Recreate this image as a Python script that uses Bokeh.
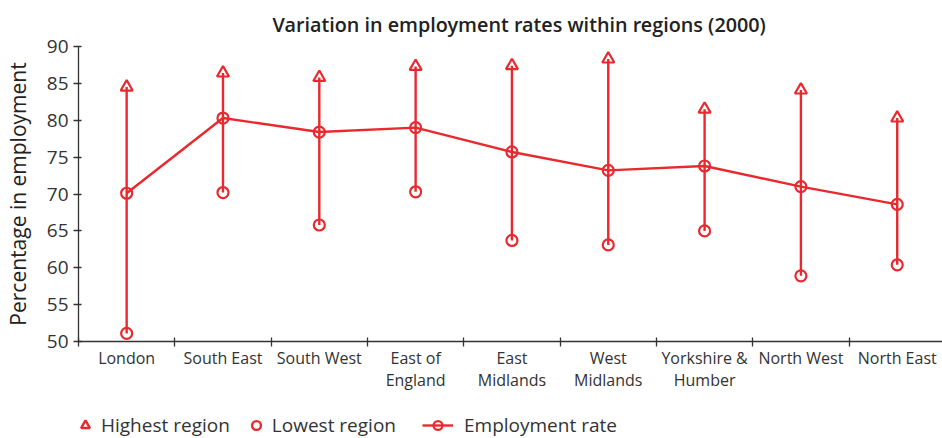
from bokeh.plotting import figure
from bokeh.layouts import column
from bokeh.models import Range1d, FixedTicker, Legend, LegendItem
from bokeh.embed import file_html
from bokeh.resources import INLINE

# Employment rates by region, 2000: regional average plus the highest and
# lowest local figures within each region.
regions = ["London", "South East", "South West", "East of\nEngland",
           "East\nMidlands", "West\nMidlands", "Yorkshire &\nHumber",
           "North West", "North East"]
highest = [84.5, 86.4, 85.8, 87.3, 87.4, 88.3, 81.5, 84.1, 80.3]
lowest = [51.1, 70.2, 65.8, 70.3, 63.7, 63.1, 65.0, 58.9, 60.4]
employment = [70.1, 80.3, 78.4, 79.0, 75.7, 73.2, 73.8, 71.0, 68.6]
y_ticks = [50, 55, 60, 65, 70, 75, 80, 85, 90]

RED = "#e9292e"
INK = "#333333"
FONT = "Open Sans"
NAN = float("nan")

# one slot per region; labels sit in the middle, tick marks on the borders
centers = [i + 0.5 for i in range(len(regions))]
borders = list(range(len(regions) + 1))

p = figure(frame_width=864, frame_height=295, output_backend="svg",
           toolbar_location=None,
           x_range=Range1d(0, 8.97), y_range=Range1d(50, 90),
           min_border_left=78, min_border_right=0, min_border_top=46,
           min_border_bottom=60)
p.outline_line_color = None
p.grid.visible = False
p.background_fill_color = "white"

p.title.text = "Variation in employment rates within regions (2000)"
p.title.align = "left"
p.title.offset = 194
p.title.text_font = "'Open Sans SemiBold', 'Open Sans'"
p.title.text_font_size = "19.8px"
p.title.text_font_style = "normal"
p.title.text_color = "#222222"
p.title.standoff = 17

# x axis
xa = p.xaxis[0]
xa.ticker = FixedTicker(ticks=centers, minor_ticks=borders)
xa.major_label_overrides = {c: r for c, r in zip(centers, regions)}
xa.major_tick_line_color = None
xa.major_tick_out = 5
xa.minor_tick_out = 5
xa.minor_tick_in = 4
xa.minor_tick_line_color = INK
xa.minor_tick_line_width = 1.3
xa.axis_line_color = INK
xa.axis_line_width = 1.3
xa.major_label_text_font = FONT
xa.major_label_text_font_size = "16px"
xa.major_label_text_color = INK
xa.major_label_text_line_height = 1.0
xa.major_label_standoff = 0

# y axis
ya = p.yaxis[0]
ya.ticker = FixedTicker(ticks=y_ticks, minor_ticks=[])
ya.major_tick_out = 5
ya.major_tick_in = 3
ya.major_tick_line_color = INK
ya.major_tick_line_width = 1.3
ya.axis_line_color = INK
ya.axis_line_width = 1.3
ya.major_label_text_font = FONT
ya.major_label_text_font_size = "19px"
ya.major_label_text_color = INK
ya.major_label_standoff = 5
ya.axis_label = "Percentage in employment"
ya.axis_label_text_font = FONT
ya.axis_label_text_font_size = "21px"
ya.axis_label_text_font_style = "normal"
ya.axis_label_text_color = "#222222"
ya.axis_label_standoff = 12

# range bars from lowest to highest
p.segment(x0=centers, y0=lowest, x1=centers, y1=highest,
          line_color=RED, line_width=2.4)

p.line(centers, employment, line_color=RED, line_width=2.4)
p.scatter(centers, employment, marker="circle", size=11,
          line_color=RED, line_width=2.2, fill_color=None)
p.scatter(centers, lowest, marker="circle", size=11,
          line_color=RED, line_width=2.2, fill_color=None)
p.scatter(centers, highest, marker="triangle", size=12,
          line_color=RED, line_width=2.2, fill_color=None)

# legend strip underneath the chart; its frame lines up with the chart's
leg = figure(width=942, height=37, output_backend="svg", toolbar_location=None,
             x_range=Range1d(0, 1), y_range=Range1d(0, 1),
             x_axis_type=None, y_axis_type=None,
             min_border_left=0, min_border_right=0, min_border_top=0,
             min_border_bottom=0)
leg.outline_line_color = None
leg.grid.visible = False

# key glyphs only (no plotted points)
key_high = leg.scatter([NAN], [NAN], marker="triangle", size=10, line_color=RED,
                       line_width=2.4, fill_color=None)
key_low = leg.scatter([NAN], [NAN], marker="circle", size=9, line_color=RED,
                      line_width=2.4, fill_color=None)
key_line = leg.line([NAN, NAN], [NAN, NAN], line_color=RED, line_width=2.4)
key_pt = leg.scatter([NAN], [NAN], marker="circle", size=8, line_color=RED,
                     line_width=2.2, fill_color=None)


def styled(legend, glyph_width, standoff, spacing):
    legend.orientation = "horizontal"
    legend.border_line_color = None
    legend.background_fill_alpha = 0
    legend.label_text_font = FONT
    legend.label_text_font_size = "19px"
    legend.label_text_color = INK
    legend.glyph_width = glyph_width
    legend.glyph_height = 22
    legend.label_height = 22
    legend.label_standoff = standoff
    legend.spacing = spacing
    legend.padding = 0
    legend.margin = 0
    return legend


markers_legend = styled(Legend(items=[
    LegendItem(label="Highest region", renderers=[key_high]),
    LegendItem(label="Lowest region", renderers=[key_low]),
], location=(-5, 0)), 24, 4, 14)
line_legend = styled(Legend(items=[
    LegendItem(label="Employment rate", renderers=[key_line, key_pt]),
], location=(344, 0)), 31, 11, 0)
leg.add_layout(markers_legend, "center")
leg.add_layout(line_legend, "center")

layout = column(p, leg, spacing=0)
open("out.html", "w").write(file_html(layout, INLINE))
